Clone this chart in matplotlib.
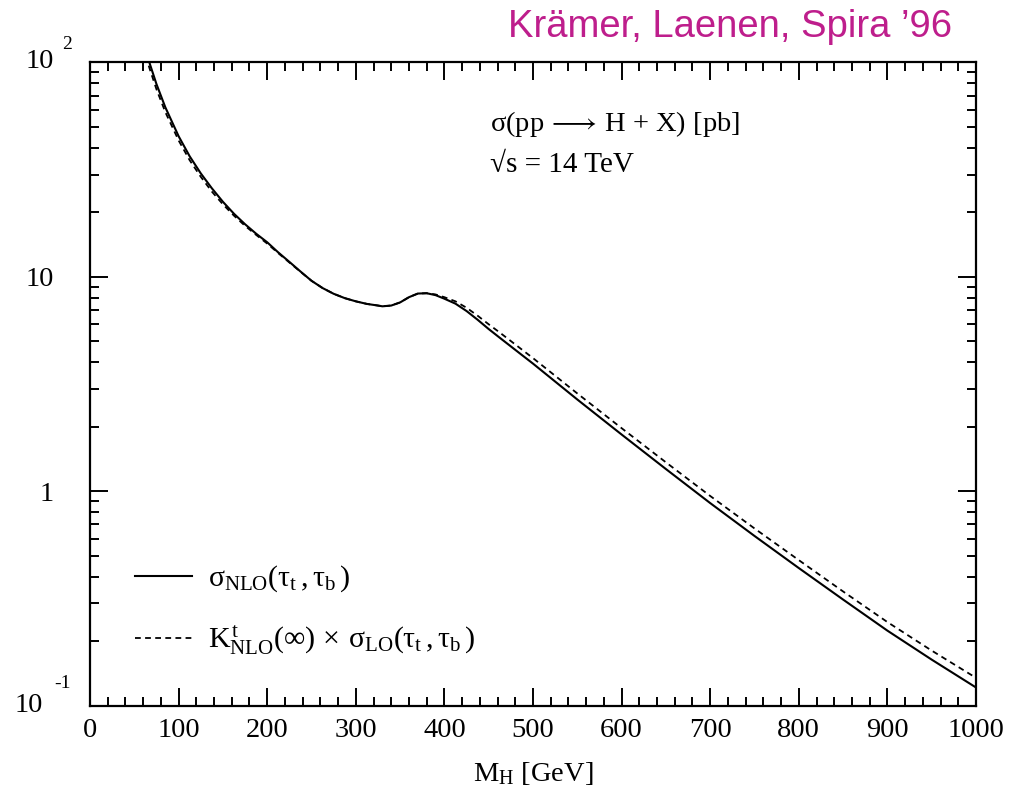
import numpy as np
import matplotlib
matplotlib.use("Agg")
import matplotlib.pyplot as plt
from matplotlib.ticker import MultipleLocator, LogLocator, NullFormatter, FixedLocator

# Données (sigma en pb)
m_h = [60, 67, 75, 85, 100, 112.5, 125, 137.5, 150, 162.5, 175, 187.5, 200, 212.5,
       225, 237.5, 250, 262.5, 275, 287.5, 300, 312.5, 325, 330, 340, 350, 360, 370,
       380, 390, 400, 412.5, 425, 437.5, 450, 462.5, 475, 487.5, 500, 550, 600, 650,
       700, 750, 800, 850, 900, 950, 1000]
sigma_nlo = [126.5, 100, 79.3, 61.8, 45.3, 36.5, 30.4, 25.9, 22.4, 19.7, 17.6, 15.9,
             14.5, 13.0, 11.75, 10.6, 9.59, 8.87, 8.34, 7.96, 7.69, 7.48, 7.35, 7.29,
             7.35, 7.60, 8.04, 8.36, 8.39, 8.22, 7.91, 7.50, 6.93, 6.31, 5.71, 5.20,
             4.74, 4.32, 3.94, 2.68, 1.84, 1.27, 0.881, 0.619, 0.4385, 0.3126, 0.2239,
             0.164, 0.1216]
k_sigma_lo = [119.1, 94.4, 75.0, 58.7, 43.3, 35.0, 29.3, 25.0, 21.8, 19.3, 17.3, 15.7,
              14.3, 12.9, 11.67, 10.57, 9.59, 8.87, 8.34, 7.96, 7.69, 7.48, 7.35, 7.29,
              7.35, 7.60, 8.04, 8.36, 8.39, 8.28, 8.04, 7.69, 7.18, 6.59, 6.01, 5.50,
              5.02, 4.58, 4.18, 2.86, 1.97, 1.365, 0.951, 0.671, 0.4775, 0.341, 0.2455,
              0.1807, 0.1349]

label_nlo = r"$\sigma_{\rm NLO}(\tau_t\,,\tau_b\,)$"
label_lo = r"$K^{t}_{\rm NLO}(\infty)\,\times\,\sigma_{\rm LO}(\tau_t\,,\tau_b\,)$"

plt.rcParams["font.family"] = ["Liberation Serif", "DejaVu Serif"]
plt.rcParams["mathtext.fontset"] = "custom"
plt.rcParams["mathtext.rm"] = "Liberation Serif"
plt.rcParams["mathtext.it"] = "Liberation Serif"
plt.rcParams["mathtext.bf"] = "Liberation Serif:bold"

fs = 20.5

fig = plt.figure(figsize=(10.24, 8), dpi=100)
ax = fig.add_axes([0.0879, 0.1179, 0.8652, 0.804])

ax.plot(m_h, sigma_nlo, color="black", lw=1.5, label=label_nlo)
ax.plot(m_h, k_sigma_lo, color="black", lw=1.3, ls=(0, (3.2, 2.4)), label=label_lo)

ax.set_yscale("log")
ax.set_xlim(0, 1000)
ax.set_ylim(0.1, 100)

ax.xaxis.set_major_locator(MultipleLocator(100))
ax.xaxis.set_minor_locator(MultipleLocator(20))
ax.yaxis.set_major_locator(FixedLocator([0.1, 1, 10, 100]))
ax.yaxis.set_minor_locator(LogLocator(base=10, subs=np.arange(2, 10)))
ax.yaxis.set_minor_formatter(NullFormatter())
ax.set_yticks([0.1, 1, 10, 100])
ax.set_yticklabels(["", "1", "10", ""])

ax.tick_params(which="both", direction="in", top=True, right=True, labelsize=fs,
               width=1.4)
ax.tick_params(which="major", length=13)
ax.tick_params(which="minor", length=6.5)
ax.tick_params(axis="x", which="major", pad=9)
ax.tick_params(axis="y", which="major", pad=26)
for s in ax.spines.values():
    s.set_linewidth(1.6)

# étiquettes 10^2 et 10^-1 à la main, comme sur l'original
ax.text(-0.041, 1.002, "10", transform=ax.transAxes, ha="right", va="center",
        fontsize=fs)
ax.text(-0.032, 1.014, "2", transform=ax.transAxes, ha="left", va="bottom",
        fontsize=14)
ax.text(-0.053, 0.0, "10", transform=ax.transAxes, ha="right", va="center",
        fontsize=fs)
ax.text(-0.04, 0.022, "-1", transform=ax.transAxes, ha="left", va="bottom",
        fontsize=14)

ax.set_xlabel(r"M$_{\rm H}$ [GeV]", fontsize=fs, labelpad=12)

ax.text(0.451, 0.905, r"$\sigma$(pp$\,\longrightarrow\,$H + X) [pb]",
        transform=ax.transAxes, fontsize=20.5, ha="left", va="center")
ax.text(0.451, 0.840, "√s = 14 TeV", transform=ax.transAxes, fontsize=21,
        ha="left", va="center")

ax.legend(loc="lower left", bbox_to_anchor=(0.051, 0.075), frameon=False,
          fontsize=21.5, handlelength=1.9, handletextpad=0.55, labelspacing=1.0,
          borderpad=0, borderaxespad=0)

fig.text(0.93, 0.954, "Krämer, Laenen, Spira ’96", color="#BE1E8C",
         fontsize=27.5, family="Liberation Sans", ha="right", va="baseline")

fig.savefig("out.png", dpi=100)
